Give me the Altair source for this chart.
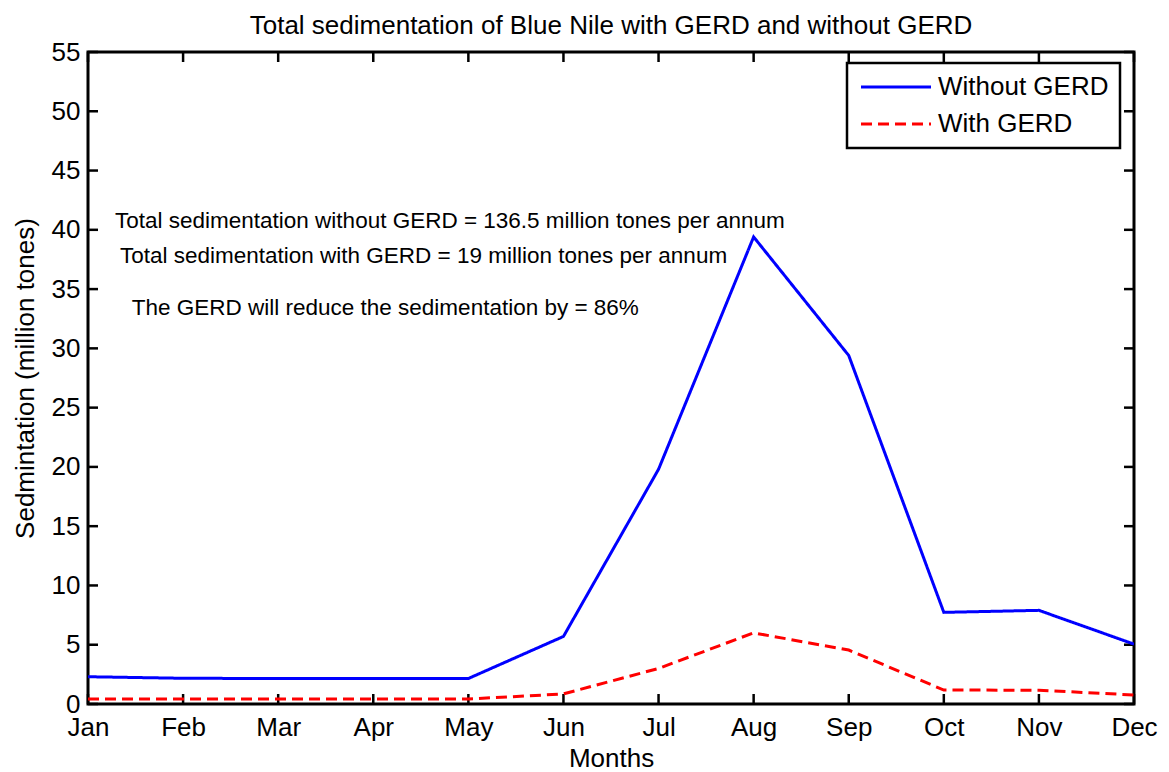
import altair as alt
import pandas as pd

months = ["Jan", "Feb", "Mar", "Apr", "May", "Jun", "Jul", "Aug", "Sep", "Oct", "Nov", "Dec"]
month_idx = list(range(1, 13))
without_gerd = [2.3, 2.17, 2.15, 2.15, 2.15, 5.7, 19.8, 39.4, 29.4, 7.73, 7.9, 5.05]
with_gerd = [0.42, 0.42, 0.42, 0.42, 0.42, 0.85, 3.0, 6.0, 4.55, 1.18, 1.16, 0.76]
series_names = ["Without GERD", "With GERD"]
y_ticks = [0, 5, 10, 15, 20, 25, 30, 35, 40, 45, 50, 55]

notes = [
    "Total sedimentation without GERD = 136.5 million tones per annum",
    "Total sedimentation with GERD = 19 million tones per annum",
    "The GERD will reduce the sedimentation by = 86%",
]
note_x = [1.284, 1.336, 1.46]
note_y = [40.15, 37.2, 32.8]

FONT = "Liberation Sans"
W, H = 1046, 652
TICK = 10

rows = []
for m, a, b in zip(month_idx, without_gerd, with_gerd):
    rows.append({"m": m, "value": a, "series": series_names[0]})
    rows.append({"m": m, "value": b, "series": series_names[1]})
df = pd.DataFrame(rows)

xscale = alt.Scale(domain=[1, 12], nice=False, zero=False)
yscale = alt.Scale(domain=[0, 55], nice=False)

month_expr = "['Jan','Feb','Mar','Apr','May','Jun','Jul','Aug','Sep','Oct','Nov','Dec'][datum.value - 1]"

legend = alt.Legend(
    title=None, orient="none", legendX=759, legendY=11,
    symbolType="M-5,0H5", symbolSize=196, symbolStrokeWidth=3, symbolOffset=25,
    labelFontSize=26, labelFont=FONT, labelColor="black", labelOffset=29, labelLimit=400,
    padding=11, rowPadding=11, strokeColor="black", fillColor="white",
)

lines = alt.Chart(df).mark_line(strokeWidth=3, clip=True).encode(
    x=alt.X("m:Q", scale=xscale,
            axis=alt.Axis(values=month_idx, labelExpr=month_expr, title="Months",
                          domain=False, ticks=False, grid=False, labelPadding=10,
                          labelFontSize=26, labelFont=FONT, labelColor="black",
                          titleFontSize=26, titleFont=FONT, titleFontWeight="normal",
                          titleColor="black", titlePadding=5, labelOverlap=False,
                          labelFlush=False)),
    y=alt.Y("value:Q", scale=yscale,
            axis=alt.Axis(values=y_ticks, title="Sedmintation (million tones)",
                          domain=False, ticks=False, grid=False, labelPadding=8,
                          labelFontSize=26, labelFont=FONT, labelColor="black",
                          titleFontSize=26, titleFont=FONT, titleFontWeight="normal",
                          titleColor="black", titlePadding=13, labelOverlap=False,
                          labelFlush=False)),
    color=alt.Color("series:N", scale=alt.Scale(domain=series_names, range=["#0000ff", "#ff0000"]),
                    legend=legend, sort=series_names),
    strokeDash=alt.StrokeDash("series:N", scale=alt.Scale(domain=series_names, range=[[1, 0], [11, 6]]),
                              legend=legend, sort=series_names),
)

ytick_df = pd.DataFrame({"t": y_ticks})
xtick_df = pd.DataFrame({"t": month_idx})

left_ticks = alt.Chart(ytick_df).mark_rule(color="black", strokeWidth=2.5).encode(
    y=alt.Y("t:Q", scale=yscale), x=alt.value(0), x2=alt.value(TICK))
right_ticks = alt.Chart(ytick_df).mark_rule(color="black", strokeWidth=2.5).encode(
    y=alt.Y("t:Q", scale=yscale), x=alt.value(W - TICK), x2=alt.value(W))
bottom_ticks = alt.Chart(xtick_df).mark_rule(color="black", strokeWidth=2.5).encode(
    x=alt.X("t:Q", scale=xscale), y=alt.value(H - TICK), y2=alt.value(H))
top_ticks = alt.Chart(xtick_df).mark_rule(color="black", strokeWidth=2.5).encode(
    x=alt.X("t:Q", scale=xscale), y=alt.value(0), y2=alt.value(TICK))

note_df = pd.DataFrame({"text": notes, "x": note_x, "y": note_y})
texts = alt.Chart(note_df).mark_text(align="left", baseline="alphabetic", fontSize=22.5,
                                     font=FONT, color="black").encode(
    x=alt.X("x:Q", scale=xscale), y=alt.Y("y:Q", scale=yscale), text="text:N")

chart = alt.layer(left_ticks, right_ticks, bottom_ticks, top_ticks, lines, texts).properties(
    width=W, height=H,
    title=alt.TitleParams("Total sedimentation of Blue Nile with GERD and without GERD",
                          fontSize=26, font=FONT, fontWeight="normal", color="black",
                          offset=0, anchor="middle"),
    autosize=alt.AutoSizeParams(type="none"),
    padding={"left": 80, "top": 44, "right": 25, "bottom": 66},
).configure_view(stroke="black", strokeWidth=3).configure_legend(strokeWidth=2.5)

chart.save("out.html", embed_options={"renderer": "svg", "actions": False})
